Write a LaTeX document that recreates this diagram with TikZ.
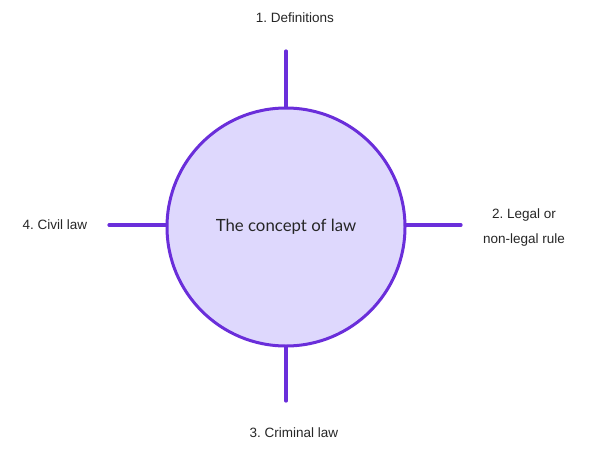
\documentclass[tikz,border=0pt]{standalone}
\usepackage{fontspec}
\setmainfont{Liberation Sans}
\newfontfamily\titlefont{Lato}
\definecolor{violet}{RGB}{106,46,218}
\definecolor{lavande}{RGB}{222,216,253}
\frenchspacing
\begin{document}
\begin{tikzpicture}[x=1pt,y=-1pt,
    branche/.style={draw=violet, line width=3.2pt, line cap=round},
    etiquette/.style={font=\fontsize{13.5}{25}\selectfont, text=black!85, align=center}]

    % Cadre de la figure
    \useasboundingbox (0,0) rectangle (592,453);

    % Le cercle central
    \node[circle, draw=violet, fill=lavande, line width=3pt, minimum size=238pt,
          font=\titlefont\fontsize{16.8}{20}\selectfont, text=black!85] (C) at (286,227) {The concept of law};

    % Extremites libres des quatre branches
    \coordinate (H) at (286,51);
    \coordinate (D) at (461,225);
    \coordinate (B) at (286,401);
    \coordinate (G) at (109,225);

    % Les quatre branches
    \draw[branche] (C.north) -- (H);
    \draw[branche] (C.east |- D) -- (D);
    \draw[branche] (C.south) -- (B);
    \draw[branche] (C.west |- G) -- (G);

    % Les libelles
    \node[etiquette] (L1) at (295,18) {1. Definitions};
    \node[etiquette] (L2) at (524,228) {2. Legal or\\non-legal rule};
    \node[etiquette] (L3) at (294,433) {3. Criminal law};
    \node[etiquette] (L4) at (55,225) {4. Civil law};

\end{tikzpicture}
\end{document}
